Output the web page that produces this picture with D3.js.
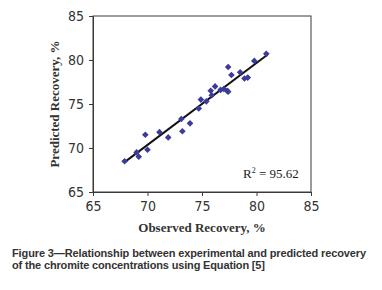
<!DOCTYPE html>
<html>
<head>
<meta charset="utf-8">
<script src="https://cdn.jsdelivr.net/npm/d3@7"></script>
<style>
  body { margin: 0; background: #fff; }
  #chart svg { display: block; }
</style>
</head>
<body>
<div id="chart"></div>
<script>
//data
var observed  = [67.9, 69.0, 69.2, 69.8, 70.0, 71.1, 71.9, 73.1, 73.2, 73.9, 74.7, 74.9, 75.4, 75.8, 75.9, 76.2, 76.7, 77.0, 77.3, 77.4, 77.4, 77.7, 78.5, 78.9, 79.2, 79.8, 80.9];
var predicted = [68.5, 69.5, 69.0, 71.5, 69.8, 71.8, 71.2, 73.3, 71.9, 72.8, 74.5, 75.5, 75.3, 76.5, 76.0, 77.0, 76.6, 76.7, 76.5, 76.4, 79.2, 78.3, 78.6, 77.9, 78.0, 79.9, 80.7];
var fitLine = [[67.9, 68.4], [81.0, 80.6]];
var ticks = [65, 70, 75, 80, 85];
var r2Label = "95.62";
var captionLines = ["Figure 3\u2014Relationship between experimental and predicted recovery",
                    "of the chromite concentrations using Equation [5]"];

var margin = {top: 16, right: 71, bottom: 98, left: 93},
    width = 382 - margin.left - margin.right,
    height = 290 - margin.top - margin.bottom;

var svg = d3.select("#chart").append("svg")
    .attr("width", 382)
    .attr("height", 290);

var g = svg.append("g")
    .attr("transform", "translate(" + margin.left + "," + margin.top + ")");

var x = d3.scaleLinear().domain([65, 85]).range([0, width]);
var y = d3.scaleLinear().domain([65, 85]).range([height, 0]);

//frame
g.append("rect")
    .attr("width", width)
    .attr("height", height)
    .attr("fill", "none")
    .attr("stroke", "#3a3a3a")
    .attr("stroke-width", 1);

//axes
var xAxis = g.append("g")
    .attr("transform", "translate(0," + height + ")")
    .call(d3.axisBottom(x).tickValues(ticks).tickSize(4).tickPadding(5));
var yAxis = g.append("g")
    .call(d3.axisLeft(y).tickValues(ticks).tickSize(4).tickPadding(5));

[xAxis, yAxis].forEach(function(a) {
    a.select(".domain").attr("stroke", "#3a3a3a");
    a.selectAll(".tick line").attr("stroke", "#3a3a3a");
    a.selectAll("text")
        .attr("fill", "#333")
        .style("font-family", "'Liberation Sans Narrow', 'Arial Narrow', 'DejaVu Sans Condensed', sans-serif")
        .style("font-stretch", "condensed")
        .style("font-size", "14px");
});

//trend line
g.append("line")
    .attr("x1", x(fitLine[0][0])).attr("y1", y(fitLine[0][1]))
    .attr("x2", x(fitLine[1][0])).attr("y2", y(fitLine[1][1]))
    .attr("stroke", "#111")
    .attr("stroke-width", 2);

//points
var diamond = d3.symbol().type(d3.symbolSquare).size(22);
g.append("g")
    .selectAll("path")
    .data(observed.map(function(d, i) { return [d, predicted[i]]; }))
    .join("path")
    .attr("d", diamond)
    .attr("transform", function(d) { return "translate(" + x(d[0]) + "," + y(d[1]) + ") rotate(45)"; })
    .attr("fill", "#3b3b9c");

//R squared
var r2 = g.append("text")
    .attr("x", 150)
    .attr("y", 162)
    .style("font-family", "'Liberation Serif', 'Times New Roman', serif")
    .style("font-size", "13px")
    .attr("fill", "#222");
r2.append("tspan").text("R");
r2.append("tspan").attr("dy", -5).style("font-size", "8px").text("2");
r2.append("tspan").attr("dy", 5).text(" = " + r2Label);

//axis titles
svg.append("text")
    .attr("x", margin.left + width / 2)
    .attr("y", 232)
    .attr("text-anchor", "middle")
    .style("font-family", "'Liberation Serif', 'Times New Roman', serif")
    .style("font-weight", "bold")
    .style("font-size", "13px")
    .attr("fill", "#333")
    .text("Observed Recovery, %");

svg.append("text")
    .attr("transform", "translate(59," + (margin.top + height / 2) + ") rotate(-90)")
    .attr("text-anchor", "middle")
    .style("font-family", "'Liberation Serif', 'Times New Roman', serif")
    .style("font-weight", "bold")
    .style("font-size", "13px")
    .attr("fill", "#333")
    .text("Predicted Recovery, %");

//caption
var captionWidths = [354, 253];
svg.append("g")
    .selectAll("text")
    .data(captionLines)
    .join("text")
    .attr("x", 12)
    .attr("y", function(d, i) { return 257 + i * 12; })
    .attr("textLength", function(d, i) { return captionWidths[i]; })
    .attr("lengthAdjust", "spacing")
    .style("font-family", "'Liberation Sans', Arial, sans-serif")
    .style("font-size", "11px")
    .style("font-weight", "bold")
    .attr("fill", "#333")
    .text(function(d) { return d; });
</script>
</body>
</html>
